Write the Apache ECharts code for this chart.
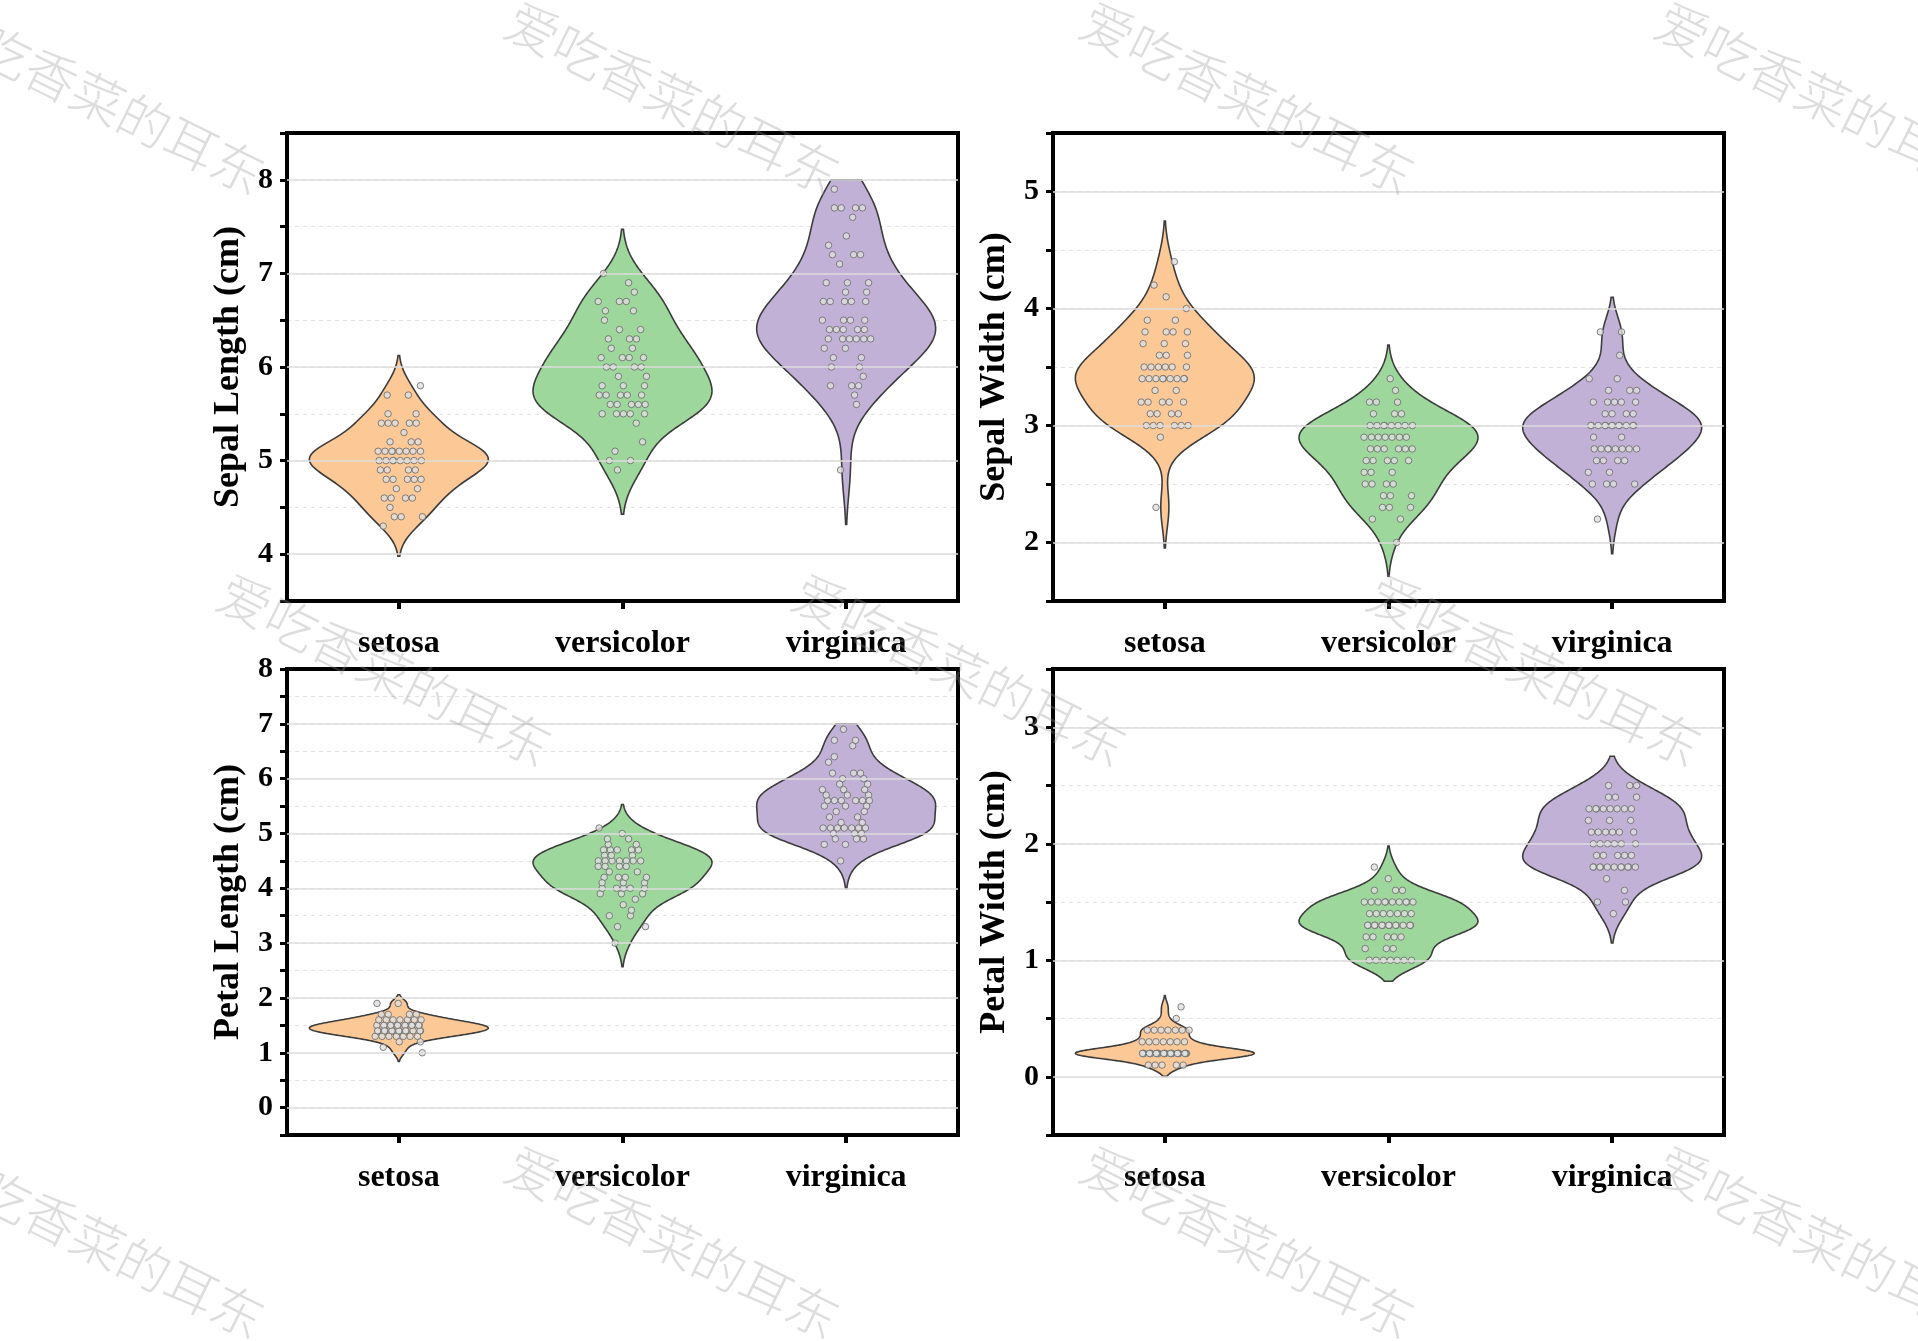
<!DOCTYPE html>
<html><head><meta charset="utf-8">
<script src="https://cdn.jsdelivr.net/npm/echarts@6/dist/echarts.min.js"></script>
<style>html,body{margin:0;padding:0;background:#fff}#c{width:1918px;height:1341px}</style>
</head><body><div id="c"></div>
<script>
// ---------------- data ----------------
const categories = ['setosa', 'versicolor', 'virginica'];

const setosaSepalLength = [5.1,4.9,4.7,4.6,5.0,5.4,4.6,5.0,4.4,4.9,5.4,4.8,4.8,4.3,5.8,5.7,5.4,5.1,5.7,5.1,5.4,5.1,4.6,5.1,4.8,5.0,5.0,5.2,5.2,4.7,4.8,5.4,5.2,5.5,4.9,5.0,5.5,4.9,4.4,5.1,5.0,4.5,4.4,5.0,5.1,4.8,5.1,4.6,5.3,5.0];
const versicolorSepalLength = [7.0,6.4,6.9,5.5,6.5,5.7,6.3,4.9,6.6,5.2,5.0,5.9,6.0,6.1,5.6,6.7,5.6,5.8,6.2,5.6,5.9,6.1,6.3,6.1,6.4,6.6,6.8,6.7,6.0,5.7,5.5,5.5,5.8,6.0,5.4,6.0,6.7,6.3,5.6,5.5,5.5,6.1,5.8,5.0,5.6,5.7,5.7,6.2,5.1,5.7];
const virginicaSepalLength = [6.3,5.8,7.1,6.3,6.5,7.6,4.9,7.3,6.7,7.2,6.5,6.4,6.8,5.7,5.8,6.4,6.5,7.7,7.7,6.0,6.9,5.6,7.7,6.3,6.7,7.2,6.2,6.1,6.4,7.2,7.4,7.9,6.4,6.3,6.1,7.7,6.3,6.4,6.0,6.9,6.7,6.9,5.8,6.8,6.7,6.7,6.3,6.5,6.2,5.9];

const setosaSepalWidth = [3.5,3.0,3.2,3.1,3.6,3.9,3.4,3.4,2.9,3.1,3.7,3.4,3.0,3.0,4.0,4.4,3.9,3.5,3.8,3.8,3.4,3.7,3.6,3.3,3.4,3.0,3.4,3.5,3.4,3.2,3.1,3.4,4.1,4.2,3.1,3.2,3.5,3.6,3.0,3.4,3.5,2.3,3.2,3.5,3.8,3.0,3.8,3.2,3.7,3.3];
const versicolorSepalWidth = [3.2,3.2,3.1,2.3,2.8,2.8,3.3,2.4,2.9,2.7,2.0,3.0,2.2,2.9,2.9,3.1,3.0,2.7,2.2,2.5,3.2,2.8,2.5,2.8,2.9,3.0,2.8,3.0,2.9,2.6,2.4,2.4,2.7,2.7,3.0,3.4,3.1,2.3,3.0,2.5,2.6,3.0,2.6,2.3,2.7,3.0,2.9,2.9,2.5,2.8];
const virginicaSepalWidth = [3.3,2.7,3.0,2.9,3.0,3.0,2.5,2.9,2.5,3.6,3.2,2.7,3.0,2.5,2.8,3.2,3.0,3.8,2.6,2.2,3.2,2.8,2.8,2.7,3.3,3.2,2.8,3.0,2.8,3.0,2.8,3.8,2.8,2.8,2.6,3.0,3.4,3.1,3.0,3.1,3.1,3.1,2.7,3.2,3.3,3.0,2.5,3.0,3.4,3.0];

const setosaPetalLength = [1.4,1.4,1.3,1.5,1.4,1.7,1.4,1.5,1.4,1.5,1.5,1.6,1.4,1.1,1.2,1.5,1.3,1.4,1.7,1.5,1.7,1.5,1.0,1.7,1.9,1.6,1.6,1.5,1.4,1.6,1.6,1.5,1.5,1.4,1.5,1.2,1.3,1.4,1.3,1.5,1.3,1.3,1.3,1.6,1.9,1.4,1.6,1.4,1.5,1.4];
const versicolorPetalLength = [4.7,4.5,4.9,4.0,4.6,4.5,4.7,3.3,4.6,3.9,3.5,4.2,4.0,4.7,3.6,4.4,4.5,4.1,4.5,3.9,4.8,4.0,4.9,4.7,4.3,4.4,4.8,5.0,4.5,3.5,3.8,3.7,3.9,5.1,4.5,4.5,4.7,4.4,4.1,4.0,4.4,4.6,4.0,3.3,4.2,4.2,4.2,4.3,3.0,4.1];
const virginicaPetalLength = [6.0,5.1,5.9,5.6,5.8,6.6,4.5,6.3,5.8,6.1,5.1,5.3,5.5,5.0,5.1,5.3,5.5,6.7,6.9,5.0,5.7,4.9,6.7,4.9,5.7,6.0,4.8,4.9,5.6,5.8,6.1,6.4,5.6,5.1,5.6,6.1,5.6,5.5,4.8,5.4,5.6,5.1,5.1,5.9,5.7,5.2,5.0,5.2,5.4,5.1];

const setosaPetalWidth = [0.2,0.2,0.2,0.2,0.2,0.4,0.3,0.2,0.2,0.1,0.2,0.2,0.1,0.1,0.2,0.4,0.4,0.3,0.3,0.3,0.2,0.4,0.2,0.5,0.2,0.2,0.4,0.2,0.2,0.2,0.2,0.4,0.1,0.2,0.2,0.2,0.2,0.1,0.2,0.2,0.3,0.3,0.2,0.6,0.4,0.3,0.2,0.2,0.2,0.2];
const versicolorPetalWidth = [1.4,1.5,1.5,1.3,1.5,1.3,1.6,1.0,1.3,1.4,1.0,1.5,1.0,1.4,1.3,1.4,1.5,1.0,1.5,1.1,1.8,1.3,1.5,1.2,1.3,1.4,1.4,1.7,1.5,1.0,1.1,1.0,1.2,1.6,1.5,1.6,1.5,1.3,1.3,1.3,1.2,1.4,1.2,1.0,1.3,1.2,1.3,1.3,1.1,1.3];
const virginicaPetalWidth = [2.5,1.9,2.1,1.8,2.2,2.1,1.7,1.8,1.8,2.5,2.0,1.9,2.1,2.0,2.4,2.3,1.8,2.2,2.3,1.5,2.3,2.0,2.0,1.8,2.1,1.8,1.8,1.8,2.1,1.6,1.9,2.0,2.2,1.5,1.4,2.3,2.4,1.8,1.8,2.1,2.4,2.3,1.9,2.3,2.5,2.3,1.9,2.0,2.3,1.8];

const axisTitles = ['Sepal Length (cm)', 'Sepal Width (cm)', 'Petal Length (cm)', 'Petal Width (cm)'];
const sepalLengthTicks = [4, 5, 6, 7, 8];
const sepalWidthTicks = [2, 3, 4, 5];
const petalLengthTicks = [0, 1, 2, 3, 4, 5, 6, 7, 8];
const petalWidthTicks = [0, 1, 2, 3];
const axisRanges = [[3.5, 8.5], [1.5, 5.5], [-0.5, 8], [-0.5, 3.5]];
// upper cut of the density outline (as in the reference)
const violinUpperCut = [[null, null, 8], [null, null, null], [null, null, 7], [null, null, null]];
const watermarkText = '爱吃香菜的耳东';

// ---------------- layout / style ----------------
const FONT = '"Liberation Serif", "Times New Roman", serif';
const colors = ['#FBC896', '#9DD79B', '#C2B1D7'];
const grids = [
  {left: 287, top: 133, width: 671, height: 468},
  {left: 1053, top: 133, width: 671, height: 468},
  {left: 287, top: 669, width: 671, height: 466},
  {left: 1053, top: 669, width: 671, height: 466}
];

const panels = [
  {groups: [setosaSepalLength, versicolorSepalLength, virginicaSepalLength], ticks: sepalLengthTicks},
  {groups: [setosaSepalWidth, versicolorSepalWidth, virginicaSepalWidth], ticks: sepalWidthTicks},
  {groups: [setosaPetalLength, versicolorPetalLength, virginicaPetalLength], ticks: petalLengthTicks},
  {groups: [setosaPetalWidth, versicolorPetalWidth, virginicaPetalWidth], ticks: petalWidthTicks}
];

// Gaussian KDE (Scott's rule, cut = 2 bandwidths)
function kde(values, upper) {
  const n = values.length;
  const mean = values.reduce((a, b) => a + b, 0) / n;
  const sd = Math.sqrt(values.reduce((a, b) => a + (b - mean) * (b - mean), 0) / (n - 1));
  const bw = sd * Math.pow(n, -0.2);
  const lo = Math.min(...values) - 2 * bw;
  let hi = Math.max(...values) + 2 * bw;
  if (upper != null && upper < hi) hi = upper;
  const N = 200, ys = [], ds = [];
  for (let i = 0; i <= N; i++) {
    const y = lo + (hi - lo) * i / N;
    let d = 0;
    for (const v of values) { const z = (y - v) / bw; d += Math.exp(-0.5 * z * z); }
    ys.push(y); ds.push(d);
  }
  const dmax = Math.max(...ds);
  return {ys, ds: ds.map(d => d / dmax)};
}

const HALF = 0.4;
const xAxes = [], yAxes = [], series = [];

panels.forEach((p, k) => {
  xAxes.push({
    type: 'category', gridIndex: k, data: categories, boundaryGap: true, position: 'bottom',
    axisLine: {show: true, onZero: false, lineStyle: {color: '#000', width: 4}},
    axisTick: {show: true, alignWithLabel: true, length: 8, lineStyle: {color: '#000', width: 4}},
    axisLabel: {margin: 27, fontSize: 32, fontWeight: 'bold', fontFamily: FONT, color: '#000'},
    splitLine: {show: false}
  });
  xAxes.push({type: 'value', gridIndex: k, min: -0.5, max: 2.5, show: false,
    axisLine: {onZero: false}});
  const ticks = p.ticks;
  const lo = axisRanges[k][0], hi = axisRanges[k][1];
  yAxes.push({
    type: 'value', gridIndex: k, min: lo, max: hi, interval: 0.5,
    position: 'left',
    name: axisTitles[k], nameLocation: 'middle', nameGap: 40,
    nameTextStyle: {fontSize: 36, fontWeight: 'bold', fontFamily: FONT, color: '#000'},
    axisLine: {show: true, onZero: false, lineStyle: {color: '#000', width: 4}},
    axisTick: {show: true, length: 7, lineStyle: {color: '#000', width: 3}},
    axisLabel: {
      margin: 14, fontSize: 30, fontWeight: 'bold', fontFamily: FONT, color: '#000',
      formatter: v => ticks.some(t => Math.abs(t - v) < 1e-9) ? String(Math.round(v)) : ''
    },
    splitLine: {show: true, showMinLine: false, showMaxLine: false,
      lineStyle: {color: '#e2e2e2', width: 1, type: [4, 4]}}
  });

  // solid major grid lines (inside the frame only)
  series.push({
    type: 'line', xAxisIndex: 2 * k + 1, yAxisIndex: k, data: [], z: 1, silent: true,
    markLine: {
      silent: true, symbol: ['none', 'none'], label: {show: false}, animation: false,
      lineStyle: {color: '#dcdcdc', width: 1.6, type: 'solid'},
      data: ticks.filter(t => t > lo && t < hi).map(t => ({yAxis: t}))
    }
  });

  // violins
  const shapes = p.groups.map((g, i) => kde(g, violinUpperCut[k][i]));
  series.push({
    type: 'custom', xAxisIndex: 2 * k + 1, yAxisIndex: k, z: 3, silent: true,
    data: categories.map((c, i) => [i]),
    renderItem: function (params, api) {
      const i = params.dataIndex;
      const s = shapes[i];
      const pts = [];
      for (let j = 0; j < s.ys.length; j++) pts.push(api.coord([i - HALF * s.ds[j], s.ys[j]]));
      for (let j = s.ys.length - 1; j >= 0; j--) pts.push(api.coord([i + HALF * s.ds[j], s.ys[j]]));
      return {
        type: 'polygon', shape: {points: pts},
        style: {fill: colors[i], stroke: '#3c3c3c', lineWidth: 1.6}
      };
    }
  });

  // jittered points (deterministic low-discrepancy offsets)
  const pts = [];
  let gIdx = 0;
  p.groups.forEach((g, i) => {
    const seen = {};
    g.forEach(v => {
      const key = v.toFixed(2);
      let f;
      if (seen[key] === undefined) { f = (gIdx * 0.7548776662 + 0.37) % 1; seen[key] = {f, c: 0}; }
      else { seen[key].c++; f = (seen[key].f + seen[key].c * 0.5698402910) % 1; }
      gIdx++;
      pts.push([i + (f - 0.5) * 0.22, v]);
    });
  });
  series.push({
    type: 'scatter', xAxisIndex: 2 * k + 1, yAxisIndex: k, z: 4, silent: true,
    symbol: 'circle', symbolSize: 6.5, data: pts,
    itemStyle: {color: '#dedede', borderColor: '#666', borderWidth: 1}
  });
});

// watermark
const wmCenters = [
  [98, 98], [673, 98], [1248, 98], [1823, 98],
  [385, 670], [960, 670], [1535, 670],
  [98, 1242], [673, 1242], [1248, 1242], [1823, 1242]
];
const graphic = wmCenters.map(c => ({
  type: 'text', x: c[0], y: c[1], rotation: -0.46, z: 100, silent: true,
  style: {
    text: watermarkText, font: '300 52px "Noto Sans CJK SC"',
    fill: 'rgba(150,150,150,0.32)', align: 'center', verticalAlign: 'middle'
  }
}));

const chart = echarts.init(document.getElementById('c'), null, {renderer: 'canvas'});
chart.setOption({
  animation: false,
  backgroundColor: '#fff',
  grid: grids.map(g => Object.assign({show: true, borderColor: '#000', borderWidth: 4, backgroundColor: 'transparent', containLabel: false}, g)),
  xAxis: xAxes,
  yAxis: yAxes,
  series: series,
  graphic: graphic
});
</script></body></html>
